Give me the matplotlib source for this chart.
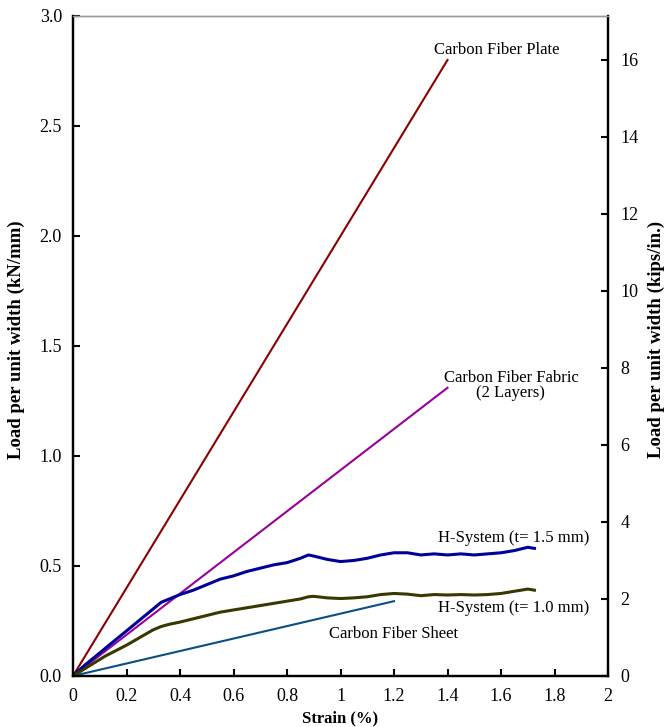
import numpy as np
import matplotlib
matplotlib.use("Agg")
import matplotlib.pyplot as plt
from matplotlib.ticker import FormatStrFormatter

plt.rcParams['font.family'] = ['Liberation Serif', 'DejaVu Serif']

# straight lines (strain %, load kN/mm)
plate_x = [0, 1.40]
plate_y = [0, 2.80]
fabric_x = [0, 1.40]
fabric_y = [0, 1.31]
sheet_x = [0, 1.20]
sheet_y = [0, 0.34]

# H-System curves
h_x = [0, 0.04, 0.08, 0.12, 0.16, 0.2, 0.25, 0.3, 0.33, 0.36, 0.4, 0.45, 0.5,
       0.55, 0.6, 0.65, 0.7, 0.75, 0.8, 0.85, 0.88, 0.9, 0.95, 1.0, 1.05, 1.1,
       1.15, 1.2, 1.25, 1.3, 1.35, 1.4, 1.45, 1.5, 1.55, 1.6, 1.65, 1.7, 1.725]
h15_y = [0, 0.045, 0.085, 0.125, 0.165, 0.205, 0.255, 0.305, 0.335, 0.35, 0.37,
         0.39, 0.415, 0.44, 0.455, 0.475, 0.49, 0.505, 0.515, 0.535, 0.55, 0.545,
         0.53, 0.52, 0.525, 0.535, 0.55, 0.56, 0.56, 0.55, 0.555, 0.55, 0.555,
         0.55, 0.555, 0.56, 0.57, 0.585, 0.58]
h10_y = [0, 0.03, 0.06, 0.09, 0.115, 0.14, 0.175, 0.21, 0.225, 0.235, 0.245,
         0.26, 0.275, 0.29, 0.30, 0.31, 0.32, 0.33, 0.34, 0.35, 0.36, 0.362,
         0.355, 0.352, 0.355, 0.36, 0.37, 0.375, 0.372, 0.365, 0.37, 0.368,
         0.37, 0.368, 0.37, 0.375, 0.385, 0.395, 0.39]

KIPS = 5.71  # kN/mm -> kips/in.

fig = plt.figure(figsize=(6.65, 7.27), dpi=100)
ax = fig.add_axes([0.1098, 0.0702, 0.8045, 0.9078])

ax.plot(plate_x, plate_y, color='#8b0000', lw=1.5)
ax.plot(fabric_x, fabric_y, color='#990099', lw=1.5)
ax.plot(sheet_x, sheet_y, color='#0b4f82', lw=1.5)
ax.plot(h_x, h15_y, color='#000099', lw=2.2)
ax.plot(h_x, h10_y, color='#383800', lw=2.2)

fs = 12
ax.text(1.585, 2.845, 'Carbon Fiber Plate', ha='center', va='center', fontsize=fs)
ax.text(1.637, 1.32, 'Carbon Fiber Fabric\n(2 Layers)', ha='center', va='center',
        fontsize=fs, linespacing=0.95)
ax.text(1.649, 0.627, 'H-System (t= 1.5 mm)', ha='center', va='center', fontsize=fs)
ax.text(1.649, 0.309, 'H-System (t= 1.0 mm)', ha='center', va='center', fontsize=fs)
ax.text(1.20, 0.19, 'Carbon Fiber Sheet', ha='center', va='center', fontsize=fs)

ax.set_xlim(0, 2)
ax.set_ylim(0, 3.0)
ax.set_xticks(np.arange(0, 2.01, 0.2))
ax.set_yticks(np.arange(0, 3.01, 0.5))
ax.xaxis.set_major_formatter(FormatStrFormatter('%g'))
ax.yaxis.set_major_formatter(FormatStrFormatter('%.1f'))
ax.tick_params(direction='in', length=5, width=1.5, labelsize=13, pad=8)
ax.tick_params(axis='x', pad=9)

ax2 = ax.twinx()
ax2.set_ylim(0, 3.0 * KIPS)
ax2.set_yticks(np.arange(0, 17, 2))
ax2.tick_params(direction='in', length=5, width=1.5, labelsize=13, pad=9)

for a in (ax, ax2):
    for s in ('left', 'bottom', 'right'):
        a.spines[s].set_linewidth(1.6)
        a.spines[s].set_color('black')
    a.spines['top'].set_color('#999999')
    a.spines['top'].set_linewidth(1.0)

ax.set_xlabel('Strain (%)', fontsize=12, fontweight='bold')
ax.xaxis.set_label_coords(0.5, -0.0515)
ax.set_ylabel('Load per unit width (kN/mm)', fontsize=13.5, fontweight='bold')
ax.yaxis.set_label_coords(-0.09, 0.51)
ax2.set_ylabel('Load per unit width (kips/in.)', fontsize=13.5, fontweight='bold')
ax2.yaxis.set_label_coords(1.074, 0.51)

fig.savefig('out.png', dpi=100)
